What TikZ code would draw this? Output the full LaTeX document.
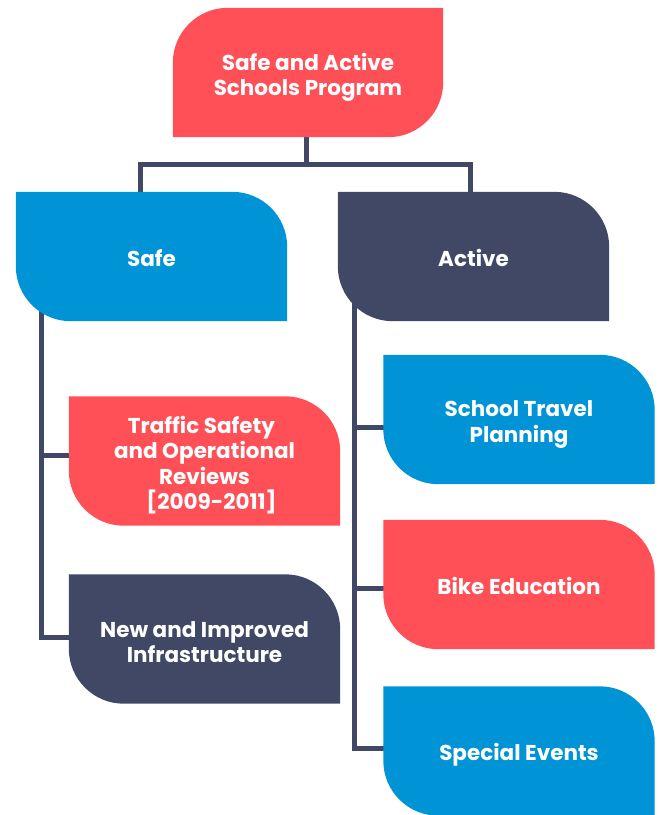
\documentclass[tikz,border=0pt]{standalone}
\usepackage{fontspec}
\setmainfont{Poppins}
\usetikzlibrary{calc}
\pgfdeclarelayer{lines}
\pgfdeclarelayer{fills}
\pgfsetlayers{lines,fills,main}
\definecolor{cred}{RGB}{255,80,88}
\definecolor{cblue}{RGB}{0,148,214}
\definecolor{cnavy}{RGB}{64,72,102}
\tikzset{
  x=1pt, y=1pt,
  box/.style={minimum width=271pt, minimum height=129pt, inner sep=0pt,
    text=white, font=\bfseries\fontsize{21.5}{25.5}\selectfont, align=center},
  link/.style={draw=cnavy, line width=5pt, line join=miter},
}
% #1 node, #2 colour, #3 vertical offset of the shape relative to the text
\newcommand\leaffill[3]{%
  \begin{pgfonlayer}{fills}
  \fill[#2] ([yshift=#3]#1.north west) -- ([xshift=-55pt,yshift=#3]#1.north east)
    arc[start angle=90,end angle=0,radius=55pt] -- ([yshift=#3]#1.south east)
    -- ([xshift=55pt,yshift=#3]#1.south west)
    arc[start angle=270,end angle=180,radius=55pt] -- cycle;
  \end{pgfonlayer}}
\newcommand\rootfill[3]{%
  \begin{pgfonlayer}{fills}
  \fill[#2] ([xshift=55pt,yshift=#3]#1.north west) -- ([yshift=#3]#1.north east)
    -- ([yshift=55pt+#3]#1.south east)
    arc[start angle=0,end angle=-90,radius=55pt] -- ([yshift=#3]#1.south west)
    -- ([yshift=-55pt+#3]#1.north west)
    arc[start angle=180,end angle=90,radius=55pt] -- cycle;
  \end{pgfonlayer}}
\begin{document}
\begin{tikzpicture}
\useasboundingbox (0,0) rectangle (660,-815);
\node[box, minimum width=270pt] (top) at (308,-77.5) {Safe and Active\\Schools Program};
\rootfill{top}{cred}{5pt}
\node[box] (safe) at (151.5,-258.5) {Safe};
\leaffill{safe}{cblue}{2pt}
\node[box] (active) at (473.5,-257.5) {Active};
\leaffill{active}{cnavy}{1pt}
\node[box] (traffic) at (204.5,-465) {Traffic Safety\hspace*{6pt}\\and Operational\\Reviews\\\hspace*{14pt}[2009-2011]};
\leaffill{traffic}{cred}{4pt}
\node[box] (new) at (204.5,-642) {New and Improved\\Infrastructure};
\leaffill{new}{cnavy}{3pt}
\node[box] (school) at (519,-424.5) {School Travel\\Planning};
\leaffill{school}{cblue}{5pt}
\node[box] (bike) at (519,-585.5) {Bike Education};
\leaffill{bike}{cred}{1pt}
\node[box] (special) at (519,-755) {Special Events};
\leaffill{special}{cblue}{4pt}
\begin{pgfonlayer}{lines}
\coordinate (hub) at ([xshift=-2pt,yshift=-22pt]top.south);
\draw[link] ([xshift=-2pt,yshift=10pt]top.south) -- (hub);
\draw[link] ([xshift=-11.5pt,yshift=-3pt]safe.north) |- (hub) -| ([xshift=-3.5pt,yshift=-4pt]active.north);
\coordinate (lt) at ([xshift=26pt,yshift=22pt]safe.south west);
\coordinate (trafficin) at ([xshift=5pt,yshift=10pt]traffic.west);
\draw[link] (lt) |- ([xshift=5pt,yshift=5pt]new.west);
\draw[link] (lt |- trafficin) -- (trafficin);
\coordinate (rt) at ([xshift=17pt,yshift=26pt]active.south west);
\coordinate (schoolin) at ([xshift=5pt,yshift=-2.5pt]school.west);
\coordinate (bikein) at ([xshift=5pt,yshift=-2.5pt]bike.west);
\draw[link] (rt) |- ([xshift=5pt,yshift=7pt]special.west);
\draw[link] (rt |- schoolin) -- (schoolin);
\draw[link] (rt |- bikein) -- (bikein);
\end{pgfonlayer}
\end{tikzpicture}
\end{document}
